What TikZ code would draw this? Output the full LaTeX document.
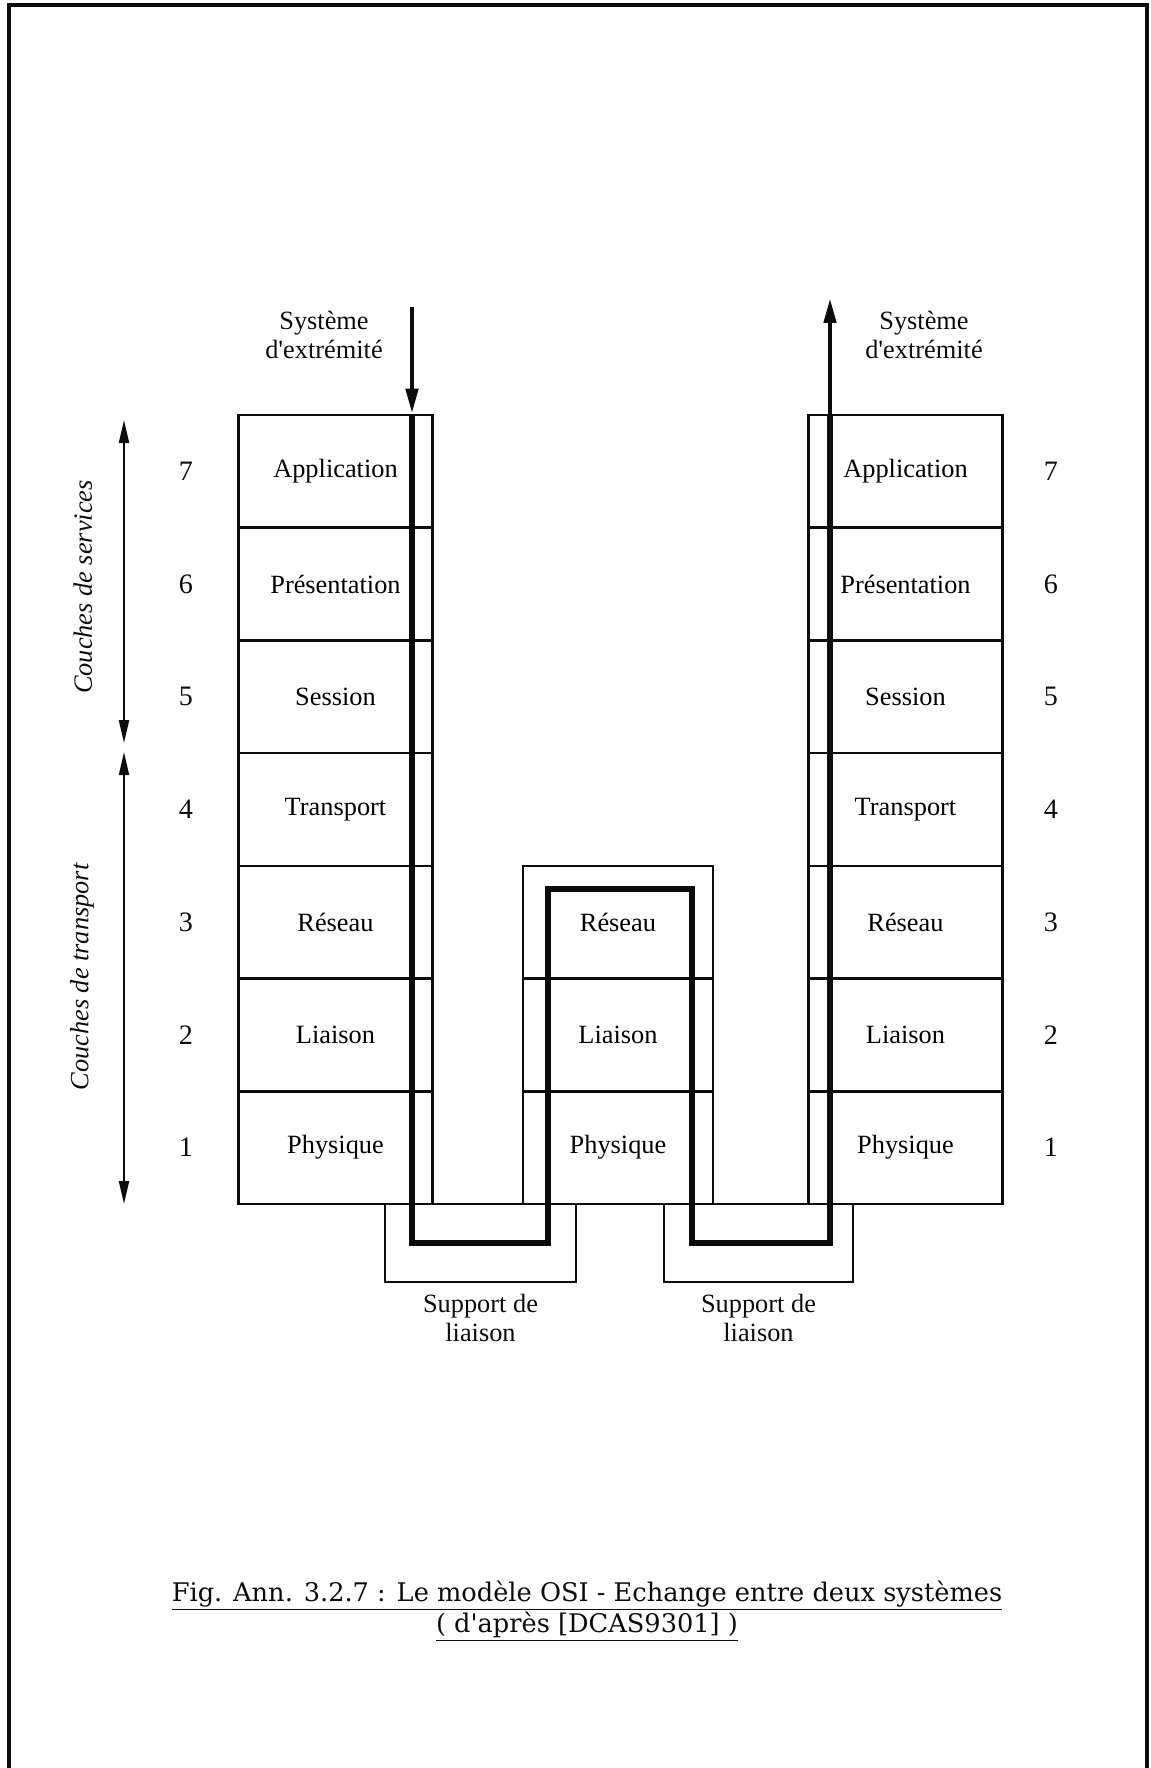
\documentclass[tikz,border=0pt]{standalone}
\usepackage{fontspec}
\setmainfont{Liberation Serif}
\newfontfamily\capfont{DejaVu Serif}
\usetikzlibrary{arrows.meta,positioning}
\definecolor{ink}{RGB}{12,12,12}
\tikzset{
  >={Triangle[length=5mm,width=2.4mm]},
  layer/.style={draw=ink,line width=1.5pt,minimum width=#1,minimum height=2.255cm,
    inner sep=0pt,font=\fontsize{15}{16.5}\selectfont},
  layer/.default=3.88cm,
  support/.style={draw=ink,line width=1.3pt,minimum width=#1,minimum height=1.56cm,inner sep=0pt},
  num/.style={font=\fontsize{16}{18}\selectfont,text=ink,inner sep=0pt},
  tag/.style={font=\fontsize{15}{16.5}\selectfont,text=ink,align=center,inner sep=0pt},
  side/.style={font=\fontsize{15}{16.5}\selectfont\itshape,text=ink,rotate=90,inner sep=0pt},
  flow/.style={->,draw=ink,line width=2.6pt},
  route/.style={draw=ink,line width=3pt},
  span/.style={<->,draw=ink,line width=1.2pt,>={Triangle[length=4.6mm,width=2mm]}},
}
\begin{document}
\begin{tikzpicture}[x=0.02cm,y=-0.02cm]
  \useasboundingbox (0,0) rectangle (1150,1768);
  \draw[ink,line width=2.3pt] (9,1768) -- (9,5) -- (1147,5) -- (1147,1768);
  \foreach \n/\txt in {7/Application,6/Présentation,5/Session,4/Transport,3/Réseau,2/Liaison,1/Physique}{
    \node[layer] (L\n) at (335.5,{1147.6-(\n-1)*112.7}) {\txt};
    \node[layer] (R\n) at (905.5,{1147.6-(\n-1)*112.7}) {\txt};
    \node[num] (nL\n) at (186,{1147.6-(\n-1)*112.7}) {\n};
    \node[num] (nR\n) at (1051,{1147.6-(\n-1)*112.7}) {\n};
  }
  \foreach \n/\txt in {3/Réseau,2/Liaison,1/Physique}
    \node[layer=3.8cm] (M\n) at (618,{1147.6-(\n-1)*112.7}) {\txt};
  \node[support=3.82cm] (supL) at (480.5,1243) {};
  \node[support=3.78cm] (supR) at (758.5,1243) {};
  \node[tag,below=2.2mm of supL] (labL) {Support de\\liaison};
  \node[tag,below=2.2mm of supR] (labR) {Support de\\liaison};
  \node[tag] (sysL) at (324,335) {Système\\d\textquotesingle extrémité};
  \node[tag] (sysR) at (924,335) {Système\\d\textquotesingle extrémité};
  \coordinate (inTop) at (412,307);
  \coordinate (outTop) at (830,298);
  \draw[flow] (inTop) -- (inTop |- L7.north);
  \draw[flow] (outTop |- R7.north) -- (outTop);
  \draw[route] (inTop |- L7.north) -- (412,1243) -| (548,889) -| (692,1243) -| (outTop |- R7.north);
  \coordinate (svcTop) at (124,420); \coordinate (svcBot) at (124,743);
  \coordinate (trTop) at (124,752); \coordinate (trBot) at (124,1204);
  \draw[span] (svcTop) -- (svcBot);
  \draw[span] (trTop) -- (trBot);
  \node[side] (svc) at (83,587) {Couches de services};
  \node[side] (tr) at (82,977) {Couches de transport};
  \node[tag,font=\capfont\fontsize{14.6}{17.6}\selectfont] (cap) at (587,1611)
    {\underline{Fig. Ann. 3.2.7 : Le modèle OSI - Echange entre deux systèmes}\\\underline{( d\textquotesingle après [DCAS9301] )}};
\end{tikzpicture}
\end{document}
